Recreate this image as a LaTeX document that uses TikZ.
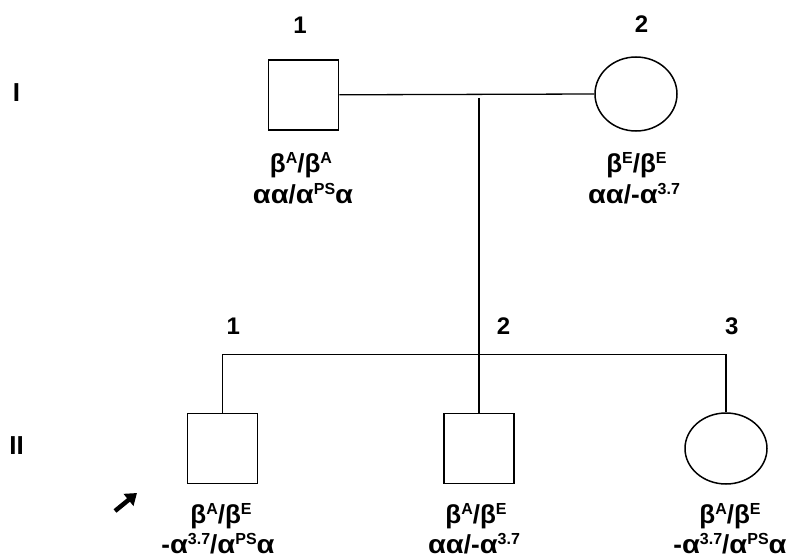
\documentclass[tikz,border=0pt]{standalone}
\usepackage{fontspec}
\setmainfont{Liberation Sans}
\usetikzlibrary{shapes.geometric,arrows.meta}
\newcommand{\sups}[1]{\raisebox{9pt}{\fontsize{16}{16}\selectfont\bfseries #1}}
\newcommand{\al}{\scalebox{1.12}[1]{α}}
\begin{document}
\begin{tikzpicture}[x=1pt,y=-1pt,
  male/.style={draw, line width=1.5pt, minimum width=70pt, minimum height=70pt, inner sep=0pt},
  female/.style={draw, ellipse, line width=1.5pt, minimum width=82pt, minimum height=74pt, inner sep=0pt},
  link/.style={line width=1.3pt},
  num/.style={font=\fontsize{24}{24}\selectfont\bfseries, anchor=base, inner sep=0pt},
  gen/.style={font=\fontsize{26}{26}\selectfont\bfseries, anchor=base, inner sep=0pt},
  geno/.style={font=\fontsize{26}{26}\selectfont\bfseries, anchor=base, inner sep=0pt}]
\useasboundingbox (0,0) rectangle (787,559);
% generation labels
\node[gen] (gI) at (16.6,101.5) {I};
\node[gen] (gII) at (16.6,454.5) {II};
% generation I
\node[male] (p1) at (303.6,94.8) {};
\node[female] (p2) at (636,94) {};
\node[num] (n11) at (300,34) {1};
\node[num] (n12) at (641.5,33) {2};
\node[geno] (g11a) at (301,172) {β\sups{A}/β\sups{A}};
\node[geno] (g11b) at (303,203) {\al\al/\al\sups{PS}\al};
\node[geno] (g12a) at (636.5,172) {β\sups{E}/β\sups{E}};
\node[geno] (g12b) at (634,203) {\al\al/-\al\sups{3.7}};
% generation II
\node[male] (c1) at (222.6,448.5) {};
\node[male] (c2) at (479,448.5) {};
\node[female, minimum height=71pt] (c3) at (726,448.5) {};
\node[num] (n21) at (233.4,334.5) {1};
\node[num] (n22) at (503.5,334.5) {2};
\node[num] (n23) at (731.9,334.5) {3};
\node[geno] (g21a) at (221,523) {β\sups{A}/β\sups{E}};
\node[geno] (g21b) at (218,553) {-\al\sups{3.7}/\al\sups{PS}\al};
\node[geno] (g22a) at (476,523) {β\sups{A}/β\sups{E}};
\node[geno] (g22b) at (474,553) {\al\al/-\al\sups{3.7}};
\node[geno] (g23a) at (730,523) {β\sups{A}/β\sups{E}};
\node[geno] (g23b) at (730,553) {-\al\sups{3.7}/\al\sups{PS}\al};
% connectors
\coordinate (desc) at (479,98);
\coordinate (sib) at (479,354.7);
\draw[link] (p1.east) -- (p2.west);
\draw[link] (desc) -- (c2.north);
\draw[link] (c1.north) -- (c1.north |- sib) -- (c3.north |- sib) -- (c3.north);
% proband arrow
\coordinate (arrs) at (115,511);
\coordinate (arre) at (137,493);
\draw[line width=4.5pt, -{Triangle[length=11pt,width=15pt]}] (arrs) -- (arre);
\end{tikzpicture}
\end{document}
